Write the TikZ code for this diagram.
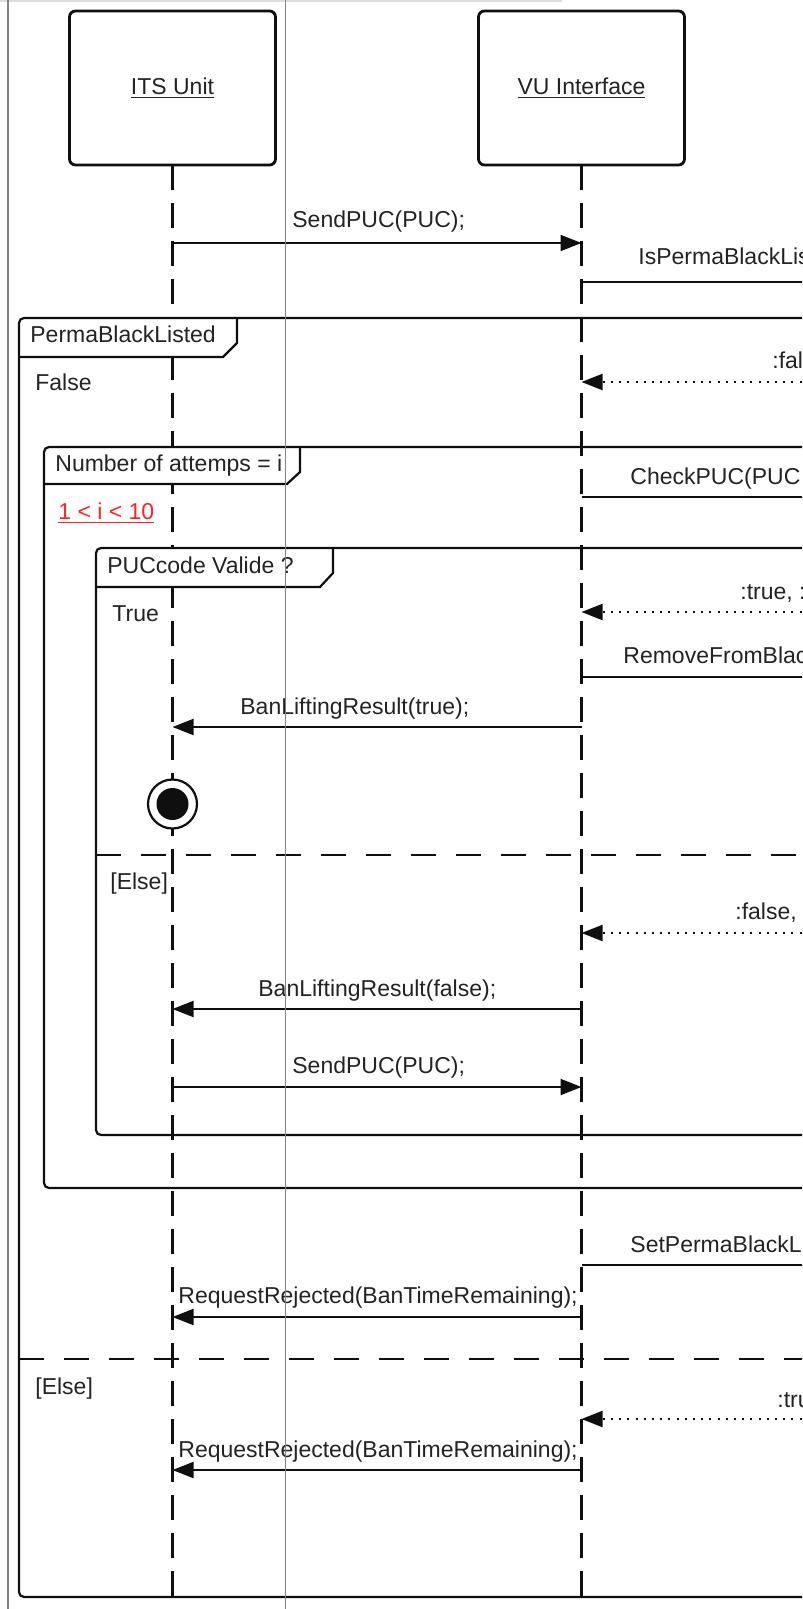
\documentclass[tikz,border=0pt]{standalone}
\usepackage{fontspec}
\setmainfont{Liberation Sans}
\usepackage{xcolor}
\usepackage{tikz}
\usetikzlibrary{
  positioning,
  arrows.meta
}
\definecolor{seqline}{RGB}{15,15,15}
\definecolor{seqtext}{RGB}{35,35,35}
\definecolor{guardred}{RGB}{255,35,35}
\definecolor{pagegray}{RGB}{130,130,130}
\definecolor{pagelight}{RGB}{222,222,222}
\tikzset{
  lifehead/.style={
    draw=seqline, fill=white, rounded corners=3pt, line width=1.4pt,
    minimum width=103pt, minimum height=77pt, inner sep=0pt, outer sep=0pt,
    font=\fontsize{11.5}{13}\selectfont, text=seqtext
  },
  lifeline/.style={
    draw=seqline, line width=1.1pt, dash pattern=on 12.5pt off 6.5pt
  },
  msgarrow/.style={
    draw=seqline, line width=1pt, -{Triangle[length=10.5pt,width=8pt]}
  },
  retarrow/.style={
    msgarrow, dash pattern=on 1pt off 3.1pt
  },
  fragframe/.style={
    draw=seqline, line width=1.1pt, rounded corners=2.5pt
  },
  fragtag/.style={
    draw=seqline, line width=1.1pt
  },
  altsep/.style={
    draw=seqline, line width=1.1pt, dash pattern=on 12.5pt off 10pt
  },
  seqlabel/.style={
    font=\fontsize{11.5}{13}\selectfont, text=seqtext,
    inner sep=0pt, anchor=base west
  },
  endstate/.style={
    circle, draw=seqline, fill=white, line width=1.1pt,
    minimum size=24.5pt, inner sep=0pt,
    path picture={\fill[seqline] (path picture bounding box.center) circle (8pt);}
  }
}

\begin{document}
\begin{tikzpicture}[x=0.5pt, y=-0.5pt, node distance=101.5pt]
  \useasboundingbox (0,0) rectangle (802,1609);
  \clip (0,0) rectangle (802,1609);

  % lifelines
  \node[lifehead] (its) at (172.5,88) {\underline{ITS Unit}};
  \node[lifehead, right=of its] (vu) {\underline{VU Interface}};
  \coordinate (ext) at (900,88); % third lifeline, off the page

  \draw[lifeline] (its.south) -- (its |- 0,1597);
  \draw[lifeline] (vu.south) -- (vu |- 0,1597);

  % fragment tags
  \fill[white] (19,318) -- (237,318) -- (237,343) -- (223,357) -- (19,357) -- cycle;
  \fill[white] (44,447) -- (300,447) -- (300,472) -- (287,484) -- (44,484) -- cycle;
  \fill[white] (96,548) -- (333,548) -- (333,573) -- (320,587) -- (96,587) -- cycle;

  % fragments
  \draw[fragframe] (19,318) rectangle (840,1597);
  \draw[fragtag] (237,318) -- (237,343) -- (223,357) -- (19,357);
  \draw[altsep] (19,1359) -- (840,1359);

  \draw[fragframe] (44,447) rectangle (840,1188);
  \draw[fragtag] (300,447) -- (300,472) -- (287,484) -- (44,484);

  \draw[fragframe] (96,548) rectangle (840,1135);
  \draw[fragtag] (333,548) -- (333,573) -- (320,587) -- (96,587);
  \draw[altsep] (96,855) -- (840,855);

  \node[seqlabel] (tperma) at (30,343) {PermaBlackListed};
  \node[seqlabel] (gfalse) at (35,391) {False};
  \node[seqlabel] (tloop) at (55,471) {Number of attemps = i};
  \node[seqlabel, text=guardred] (gloop) at (58,519) {\underline{1 < i < 10}};
  \node[seqlabel] (tvalid) at (107,573) {PUCcode Valide ?};
  \node[seqlabel] (gtrue) at (112,621) {True};
  \node[seqlabel] (gelse1) at (110,889) {[Else]};
  \node[seqlabel] (gelse2) at (35,1394) {[Else]};

  % messages
  \draw[msgarrow] (its |- 0,243) -- (vu |- 0,243);
  \node[seqlabel] (lsend1) at (292,228) {SendPUC(PUC);};

  \draw[msgarrow] (vu |- 0,282) -- (ext |- 0,282);
  \node[seqlabel] (lisperma) at (638,265) {IsPermaBlackLis};

  \draw[retarrow] (ext |- 0,382) -- (vu |- 0,382);
  \node[seqlabel] (lret1) at (772,369) {:fal};

  \draw[msgarrow] (vu |- 0,497) -- (ext |- 0,497);
  \node[seqlabel] (lcheck) at (630,484) {CheckPUC(PUC};

  \draw[retarrow] (ext |- 0,612) -- (vu |- 0,612);
  \node[seqlabel] (lret2) at (740,599) {:true, :};

  \draw[msgarrow] (vu |- 0,677) -- (ext |- 0,677);
  \node[seqlabel] (lremove) at (623,663) {RemoveFromBlac};

  \draw[msgarrow] (vu |- 0,727) -- (its |- 0,727);
  \node[seqlabel] (lbantrue) at (240,714) {BanLiftingResult(true);};

  \node[endstate] (stop) at (172.5,804) {};

  \draw[retarrow] (ext |- 0,933) -- (vu |- 0,933);
  \node[seqlabel] (lret3) at (735,919) {:false,};

  \draw[msgarrow] (vu |- 0,1009) -- (its |- 0,1009);
  \node[seqlabel] (lbanfalse) at (258,996) {BanLiftingResult(false);};

  \draw[msgarrow] (its |- 0,1087) -- (vu |- 0,1087);
  \node[seqlabel] (lsend2) at (292,1073) {SendPUC(PUC);};

  \draw[msgarrow] (vu |- 0,1265) -- (ext |- 0,1265);
  \node[seqlabel] (lsetperma) at (630,1252) {SetPermaBlackLi};

  \draw[msgarrow] (vu |- 0,1317) -- (its |- 0,1317);
  \node[seqlabel] (lreject1) at (178,1303) {RequestRejected(BanTimeRemaining);};

  \draw[retarrow] (ext |- 0,1419) -- (vu |- 0,1419);
  \node[seqlabel] (lret4) at (777,1407) {:tru};

  \draw[msgarrow] (vu |- 0,1470) -- (its |- 0,1470);
  \node[seqlabel] (lreject2) at (178,1457) {RequestRejected(BanTimeRemaining);};

  % page rules behind the scan
  \draw[pagelight, line width=1pt] (0,1) -- (562,1);
  \draw[pagegray, line width=1pt] (8,0) -- (8,1609);
  \draw[pagegray, line width=0.4pt] (285,0) -- (285,1609);

\end{tikzpicture}
\end{document}
